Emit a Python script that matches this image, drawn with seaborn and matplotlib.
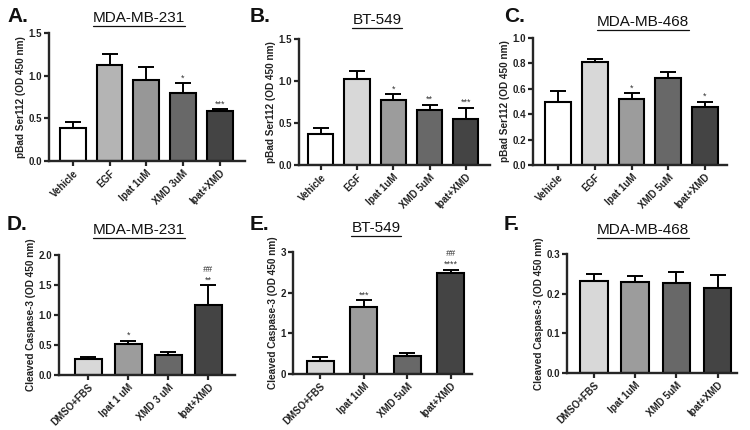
import matplotlib
matplotlib.use("Agg")
import matplotlib.pyplot as plt
from matplotlib.lines import Line2D
import numpy as np
import pandas as pd
import seaborn as sns

sns.set_style("ticks")
plt.rcParams["font.family"] = ["Liberation Sans", "DejaVu Sans"]

# ---- data ----
top_labels_a = ["Vehicle", "EGF", "Ipat 1uM", "XMD 3uM", "Ipat+XMD"]
top_labels_bc = ["Vehicle", "EGF", "Ipat 1uM", "XMD 5uM", "Ipat+XMD"]
bot_labels_d = ["DMSO+FBS", "Ipat 1 uM", "XMD 3 uM", "Ipat+XMD"]
bot_labels_ef = ["DMSO+FBS", "Ipat 1uM", "XMD 5uM", "Ipat+XMD"]

a_mean = [0.39, 1.13, 0.95, 0.80, 0.59]
a_err = [0.07, 0.12, 0.15, 0.11, 0.02]
a_star = ["", "", "", "*", "***"]

b_mean = [0.37, 1.02, 0.77, 0.66, 0.55]
b_err = [0.07, 0.10, 0.07, 0.06, 0.13]
b_star = ["", "", "*", "**", "***"]

c_mean = [0.495, 0.81, 0.52, 0.687, 0.46]
c_err = [0.09, 0.025, 0.046, 0.047, 0.04]
c_star = ["", "", "*", "", "*"]

d_mean = [0.27, 0.52, 0.33, 1.16]
d_err = [0.03, 0.05, 0.06, 0.34]
d_star = ["", "*", "", "**"]
d_hash = ["", "", "", "##"]

e_mean = [0.33, 1.65, 0.44, 2.48]
e_err = [0.10, 0.16, 0.08, 0.09]
e_star = ["", "***", "", "****"]
e_hash = ["", "", "", "##"]

f_mean = [0.231, 0.230, 0.2265, 0.215]
f_err = [0.019, 0.014, 0.0275, 0.033]

top_cols_a = ["#ffffff", "#b4b4b4", "#979797", "#686868", "#444444"]
top_cols_bc = ["#ffffff", "#d8d8d8", "#9c9c9c", "#686868", "#444444"]
bot_cols = ["#d8d8d8", "#9c9c9c", "#686868", "#444444"]

fig = plt.figure(figsize=(7.5, 4.3), dpi=100)

panels = [
    # letter, title, labels, mean, err, stars, hashes, colors, ylabel, ylim, yticks, fmt, rect, xlim, width, title xy, letter xy
    ("A.", "MDA-MB-231", top_labels_a, a_mean, a_err, a_star, None, top_cols_a,
     "pBad Ser112 (OD 450 nm)", 1.5, [0, 0.5, 1.0, 1.5], "{:.1f}",
     [0.0653, 0.6256, 0.261, 0.2977], (-0.65, 4.68), 0.7, (139, 18), (7, 17)),
    ("B.", "BT-549", top_labels_bc, b_mean, b_err, b_star, None, top_cols_bc,
     "pBad Ser112 (OD 450 nm)", 1.5, [0, 0.5, 1.0, 1.5], "{:.1f}",
     [0.3987, 0.6163, 0.2547, 0.293], (-0.6, 4.67), 0.7, (377, 20), (250, 17)),
    ("C.", "MDA-MB-468", top_labels_bc, c_mean, c_err, c_star, None, top_cols_bc,
     "pBad Ser112 (OD 450 nm)", 1.0, [0, 0.2, 0.4, 0.6, 0.8, 1.0], "{:.1f}",
     [0.7107, 0.6163, 0.2587, 0.2953], (-0.68, 4.6), 0.7, (643, 22), (504, 17)),
    ("D.", "MDA-MB-231", bot_labels_d, d_mean, d_err, d_star, d_hash, bot_cols,
     "Cleaved Caspase-3 (OD 450 nm)", 2.0, [0, 0.5, 1.0, 1.5, 2.0], "{:.1f}",
     [0.0787, 0.1279, 0.2347, 0.279], (-0.73, 3.67), 0.68, (139, 230), (7, 224)),
    ("E.", "BT-549", bot_labels_ef, e_mean, e_err, e_star, e_hash, bot_cols,
     "Cleaved Caspase-3 (OD 450 nm)", 3, [0, 1, 2, 3], "{:.0f}",
     [0.3907, 0.1302, 0.2387, 0.2837], (-0.63, 3.49), 0.62, (376, 228), (250, 224)),
    ("F.", "MDA-MB-468", bot_labels_ef, f_mean, f_err, None, None, bot_cols,
     "Cleaved Caspase-3 (OD 450 nm)", 0.3, [0, 0.1, 0.2, 0.3], "{:.1f}",
     [0.756, 0.1326, 0.2267, 0.2767], (-0.65, 3.47), 0.67, (643, 230), (504, 224)),
]

W, H = 750, 430
titles = []
for (letter, title, labels, mean, err, stars, hashes, cols, ylabel, ytop, yticks,
     fmt, rect, xlim, width, txy, lxy) in panels:
    ax = fig.add_axes(rect)
    df = pd.DataFrame({"group": labels, "value": mean})
    sns.barplot(data=df, x="group", y="value", hue="group", order=labels,
                palette=cols, legend=False, errorbar=None, width=width,
                edgecolor="black", linewidth=1.5, saturation=1, ax=ax)
    xs = np.arange(len(labels))
    ax.errorbar(xs, mean, yerr=[np.zeros(len(err)), err], fmt="none",
                ecolor="black", elinewidth=1.4, capsize=5.5, capthick=1.4, zorder=1)
    tops = np.array(mean) + np.array(err)
    if stars:
        for x, t, s in zip(xs, tops, stars):
            if s:
                ax.annotate(s, (x, t), xytext=(0, 0.5), textcoords="offset points",
                            ha="center", va="bottom", fontsize=6.5, color="#333333")
    if hashes:
        for x, t, s in zip(xs, tops, hashes):
            if s:
                ax.annotate(s, (x, t), xytext=(0, 8), textcoords="offset points",
                            ha="center", va="bottom", fontsize=6.5, color="#333333",
                            style="italic")
    ax.set_xlim(*xlim)
    ax.set_ylim(0, ytop)
    ax.set_yticks(yticks)
    ax.set_yticklabels([fmt.format(v) for v in yticks])
    ax.set_xticks(xs)
    ax.set_xticklabels(labels, rotation=45, ha="right", rotation_mode="anchor")
    ax.set_xlabel("")
    ax.set_ylabel(ylabel, fontsize=7.2, fontweight="bold", color="#222222", labelpad=2)
    for sp in ["top", "right"]:
        ax.spines[sp].set_visible(False)
    for sp in ["left", "bottom"]:
        ax.spines[sp].set_linewidth(1.7)
    ax.tick_params(axis="both", direction="out", length=3.5, width=1.6, pad=1.5,
                   labelsize=7, labelcolor="#222222")
    for lab in ax.get_xticklabels() + ax.get_yticklabels():
        lab.set_fontweight("bold")

    t = fig.text(txy[0] / W, 1 - txy[1] / H, title, ha="center", va="center",
                 fontsize=11, color="#111111")
    titles.append(t)
    fig.text(lxy[0] / W, 1 - lxy[1] / H, letter, ha="left", va="center",
             fontsize=15, fontweight="bold", color="#111111")

# underline the cell line names
fig.canvas.draw()
r = fig.canvas.get_renderer()
for t in titles:
    bb = t.get_window_extent(renderer=r)
    y = (bb.y0 - 1) / H
    fig.add_artist(Line2D([bb.x0 / W, bb.x1 / W], [y, y], color="#111111",
                          linewidth=0.9, transform=fig.transFigure))

fig.savefig("out.png", dpi=100)
